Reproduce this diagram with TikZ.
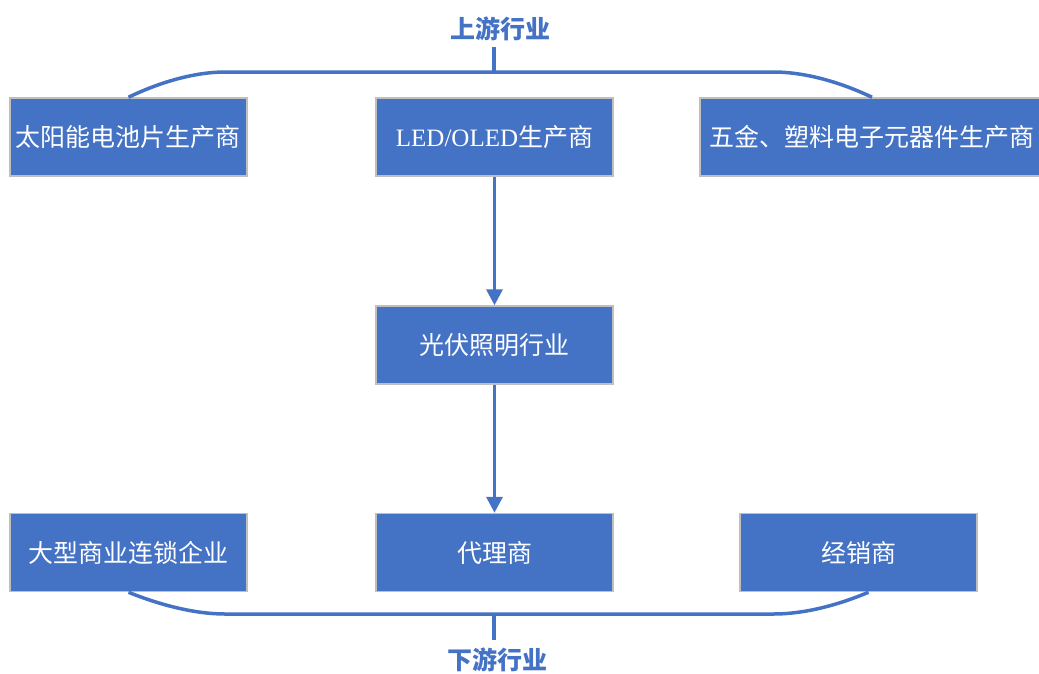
\documentclass[tikz,border=0pt]{standalone}
\usepackage{fontspec}
\setmainfont{Liberation Serif}
\newfontfamily\cjk{Noto Sans CJK SC}
\usetikzlibrary{arrows.meta,calc}
\definecolor{blu}{HTML}{4472C4}
\definecolor{edge}{HTML}{BFBFBF}
\tikzset{
  box/.style={draw=edge, line width=1.5pt, fill=blu, text=white, minimum height=78pt, inner sep=0pt,
    font=\cjk\fontsize{25}{29}\selectfont},
  conn/.style={draw=blu, line width=3.5pt},
  arr/.style={conn, -{Triangle[width=16pt,length=16pt]}},
  lab/.style={text=blu, font=\cjk\bfseries\fontsize{25}{29}\selectfont, inner sep=0pt}
}
\begin{document}
\begin{tikzpicture}[x=1pt,y=-1pt]
\useasboundingbox (0,0) rectangle (1039,673);
\node[box, minimum width=237pt] (b1) at (128.5,137) {太阳能电池片生产商};
\node[box, minimum width=237pt] (b2) at (494.5,137) {{\rmfamily LED/OLED}生产商};
\node[box, minimum width=344pt] (b3) at (872,137) {五金、塑料电子元器件生产商};
\node[box, minimum width=237pt] (b4) at (494.5,345) {光伏照明行业};
\node[box, minimum width=237pt] (b5) at (128.5,552.5) {大型商业连锁企业};
\node[box, minimum width=237pt] (b6) at (494.5,552.5) {代理商};
\node[box, minimum width=237pt] (b7) at (858.5,552.5) {经销商};
\node[lab] (up) at (500,29) {上游行业};
\node[lab] (down) at (497,660) {下游行业};
\coordinate (tm) at (494,72);
\coordinate (bm) at (494,614);
\coordinate (tt) at (494,47);
\coordinate (bt) at (494,640);
\draw[conn] (b1.north) .. controls (160,82) and (195,72) .. (225,72) -- (773,72) .. controls (805,72) and (840,82) .. (b3.north);
\draw[conn] (b5.south) .. controls (160,605) and (195,614) .. (225,614) -- (773,614) .. controls (805,614) and (838,605) .. ($(b7.south)+(10,0)$);
\draw[conn] (tm) -- (tt);
\draw[conn] (bm) -- (bt);
\draw[arr] (b2.south) -- (b4.north);
\draw[arr] (b4.south) -- (b6.north);
\end{tikzpicture}
\end{document}
